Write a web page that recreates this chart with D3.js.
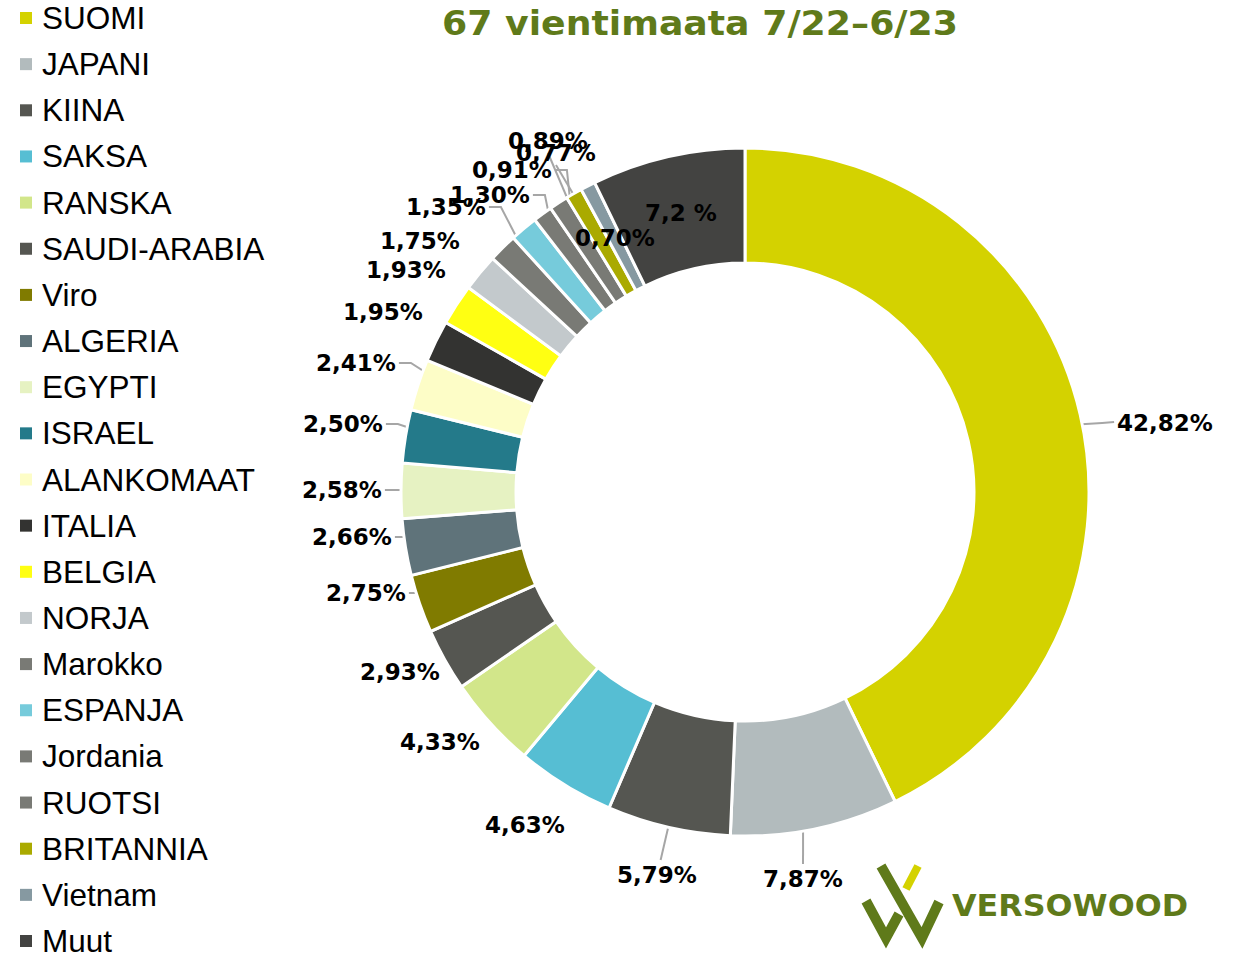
<!DOCTYPE html>
<html>
<head>
<meta charset="utf-8">
<script src="https://cdn.jsdelivr.net/npm/d3@7"></script>
<style>
  body { margin: 0; background: #fff; }
  svg { display: block; }
  .legend text { font-family: "Liberation Sans", Arial, sans-serif; font-size: 31.5px; fill: #000; }
  .lbl { font-family: "DejaVu Sans", sans-serif; font-weight: bold; font-size: 23px; fill: #000; }
  .title { font-family: "DejaVu Sans", sans-serif; font-weight: bold; font-size: 34px; fill: #5f7a1a; }
</style>
</head>
<body>
<svg id="chart" width="1243" height="954"></svg>
<script>
  const countries = ['SUOMI', 'JAPANI', 'KIINA', 'SAKSA', 'RANSKA', 'SAUDI-ARABIA', 'Viro', 'ALGERIA',
    'EGYPTI', 'ISRAEL', 'ALANKOMAAT', 'ITALIA', 'BELGIA', 'NORJA', 'Marokko', 'ESPANJA', 'Jordania',
    'RUOTSI', 'BRITANNIA', 'Vietnam', 'Muut'];
  const shares = [42.82, 7.87, 5.79, 4.63, 4.33, 2.93, 2.75, 2.66, 2.58, 2.50, 2.41, 1.95, 1.93, 1.75,
    1.35, 1.30, 0.91, 0.89, 0.77, 0.70, 7.2];
  const labels = ['42,82%', '7,87%', '5,79%', '4,63%', '4,33%', '2,93%', '2,75%', '2,66%', '2,58%',
    '2,50%', '2,41%', '1,95%', '1,93%', '1,75%', '1,35%', '1,30%', '0,91%', '0,89%', '0,77%', '0,70%', '7,2 %'];
  const colors = ['#d4d200', '#b2bbbd', '#555651', '#56bed3', '#d2e68a', '#555651', '#807b00', '#5f737a',
    '#e6f2c2', '#247a8a', '#fdfdc7', '#333331', '#ffff12', '#c3c9cc', '#797a75', '#76cbdb', '#797a75',
    '#797a75', '#aaaa00', '#8699a1', '#434341'];
  const title = '67 vientimaata 7/22\u20136/23';

  // manual label placement (centre x, centre y, leader side) like the original chart
  const labelAt = [
    [1165, 423, 'l'], [803, 879, 't'], [657, 875, 't'], [525, 825, ''], [440, 742, ''], [400, 672, ''],
    [366, 593, 'r'], [352, 537, 'r'], [342, 490, 'r'], [343, 424, 'r'], [356, 363, 'r'], [383, 312, ''],
    [406, 270, ''], [420, 241, ''], [446, 207, 'r'], [490, 195, 'r'], [512, 170, 'r'], [548, 141, 'b'],
    [556, 153, 'b'], [615, 238, ''], [681, 213, '']
  ];

  const svg = d3.select('#chart');
  const cx = 745, cy = 492, rOut = 344, rIn = 229;

  const data = countries.map((c, i) => ({name: c, value: shares[i], label: labels[i], color: colors[i]}));

  const pie = d3.pie().value(d => d.value).sort(null);
  const arc = d3.arc().innerRadius(rIn).outerRadius(rOut);
  const arcs = pie(data);

  const g = svg.append('g').attr('transform', `translate(${cx},${cy})`);
  g.selectAll('path.slice')
    .data(arcs)
    .join('path')
    .attr('class', 'slice')
    .attr('d', arc)
    .attr('fill', d => d.data.color)
    .attr('stroke', '#fff')
    .attr('stroke-width', 3);

  // labels
  const lblG = svg.append('g');
  const leaders = svg.insert('g', 'g');
  arcs.forEach((a, i) => {
    const [lx, ly, side] = labelAt[i];
    const t = lblG.append('text')
      .attr('class', 'lbl')
      .attr('x', lx)
      .attr('y', ly)
      .attr('dy', '0.36em')
      .attr('text-anchor', 'middle')
      .text(a.data.label);
    if (!side) return;
    const bb = t.node().getBBox();
    const c = arc.centroid(a);
    const end = [cx + c[0], cy + c[1]];
    let pts;
    if (side === 'r') {
      const sx = bb.x + bb.width + 3;
      pts = [[sx, ly], [sx + 12, ly], end];
    } else if (side === 'l') {
      const sx = bb.x - 3;
      pts = [[sx, ly - 1], [sx - 12, ly], end];
    } else if (side === 't') {
      pts = [[lx + (end[0] - lx) * 0.15, ly - 15], end];
    } else {
      pts = [[lx, ly + 12], end];
    }
    leaders.append('path')
      .attr('d', d3.line()(pts))
      .attr('fill', 'none')
      .attr('stroke', '#a6a6a6')
      .attr('stroke-width', 2);
  });

  // legend
  const step = 46.15;
  const leg = svg.append('g').attr('class', 'legend');
  const rows = leg.selectAll('g')
    .data(data)
    .join('g')
    .attr('transform', (d, i) => `translate(0,${18 + i * step})`);
  rows.append('rect')
    .attr('x', 20).attr('y', -6)
    .attr('width', 12).attr('height', 12)
    .attr('fill', d => d.color);
  rows.append('text')
    .attr('x', 42)
    .attr('y', 11)
    .text(d => d.name);

  // title
  svg.append('text')
    .attr('class', 'title')
    .attr('x', 700)
    .attr('y', 35)
    .attr('text-anchor', 'middle')
    .attr('textLength', 516)
    .attr('lengthAdjust', 'spacingAndGlyphs')
    .text(title);

  // Versowood logo
  const logo = svg.append('g');
  logo.append('path')
    .attr('d', 'M866,901 L886,938 L899,914')
    .attr('fill', 'none').attr('stroke', '#5f7a1a').attr('stroke-width', 10).attr('stroke-linejoin', 'miter');
  logo.append('path')
    .attr('d', 'M881,866 L922,938 L939,902')
    .attr('fill', 'none').attr('stroke', '#5f7a1a').attr('stroke-width', 10).attr('stroke-linejoin', 'miter');
  logo.append('path')
    .attr('d', 'M918,866 L906,889')
    .attr('fill', 'none').attr('stroke', '#d4d200').attr('stroke-width', 8);
  logo.append('text')
    .attr('x', 952).attr('y', 916)
    .attr('textLength', 236)
    .attr('lengthAdjust', 'spacingAndGlyphs')
    .style('font-family', '"DejaVu Sans", sans-serif')
    .style('font-weight', 'bold')
    .style('font-size', '31px')
    .style('fill', '#5f7a1a')
    .text('VERSOWOOD');
</script>
</body>
</html>
